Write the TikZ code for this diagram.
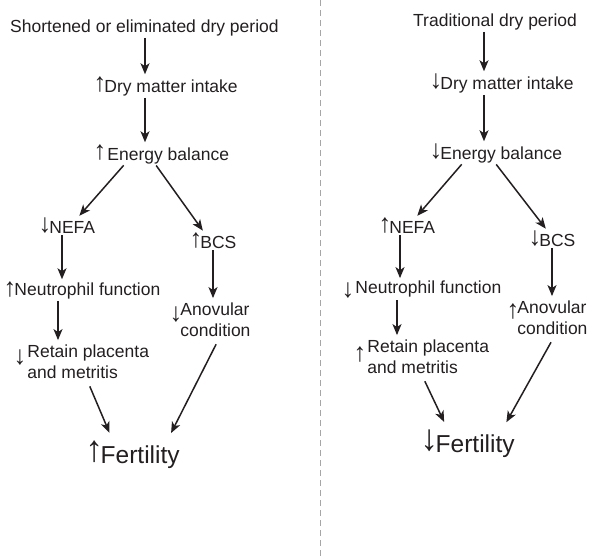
\documentclass[tikz,border=0pt]{standalone}
\usepackage{fontspec}
\setmainfont{Liberation Sans}
\usetikzlibrary{arrows.meta}
\definecolor{ink}{RGB}{35,31,32}
\newcommand{\twol}[2]{\begin{tabular}[t]{@{}l@{}}#1\\#2\end{tabular}}
\newcommand{\upg}[1][0pt]{\raisebox{#1}{\makebox[0.42em][c]{\scalebox{1.45}[1.5]{\raisebox{\depth}{↑}}}}\kern0.05em}
\newcommand{\dng}[1][0pt]{\raisebox{#1}{\makebox[0.42em][c]{\scalebox{1.45}[1.5]{\raisebox{\depth}{↓}}}}\kern0.05em}
\begin{document}
\begin{tikzpicture}[x=1pt,y=-1pt,
  txt/.style={anchor=base west, inner sep=0pt, text=ink, font=\fontsize{17.5}{21}\selectfont},
  big/.style={anchor=base west, inner sep=0pt, text=ink, font=\fontsize{24.5}{29}\selectfont},
  arr/.style={draw=ink, line width=1.5pt, -{Stealth[length=11pt,width=9pt,inset=3pt]}, shorten <=2pt, shorten >=2pt},
  toF/.style={shorten >=9pt}]
\useasboundingbox (0,0) rectangle (598,557);
\draw[gray!70, line width=0.9pt, dash pattern=on 6pt off 4pt] (320,0) -- (320,557);

% left column
\node[txt] (Ltop) at (10,32) {Shortened or eliminated dry period};
\node[txt] (Ldmi) at (96,92) {\upg Dry matter intake};
\node[txt] (Leb) at (96,160) {\upg\kern3pt Energy balance};
\node[txt] (Lnefa) at (41,233) {\dng NEFA};
\node[txt] (Lbcs) at (192,248) {\upg BCS};
\node[txt] (Lneu) at (6,295) {\upg[-2pt] Neutrophil function};
\node[txt] (Lanov) at (172,315) {\dng[-7pt]\twol{Anovular}{condition}};
\node[txt] (Lret) at (16,357) {\dng[-8pt]\kern3pt\twol{Retain placenta}{and metritis}};
\node[big] (Lfert) at (89,463) {\upg Fertility};

\draw[arr] (145,0 |- Ltop.south) -- (145,0 |- Ldmi.north);
\draw[arr] (145,0 |- Ldmi.south) -- (145,0 |- Leb.north);
\draw[arr] (125,0 |- Leb.south) -- (78,0 |- Lnefa.north);
\draw[arr] (155,0 |- Leb.south) -- (204,0 |- Lbcs.north);
\draw[arr] (62,0 |- Lnefa.south) -- (62,0 |- Lneu.north);
\draw[arr] (213,0 |- Lbcs.south) -- (213,0 |- Lanov.north);
\draw[arr] (58,0 |- Lneu.south) -- (58,0 |- Lret.north);
\draw[arr,toF] (89,0 |- Lret.south) -- (113,0 |- Lfert.north);
\draw[arr,toF] (217,0 |- Lanov.south) -- (167,0 |- Lfert.north);

% right column
\node[txt] (Rtop) at (413,26) {Traditional dry period};
\node[txt] (Rdmi) at (432,89) {\dng Dry matter intake};
\node[txt] (Reb) at (432,159) {\dng Energy balance};
\node[txt] (Rnefa) at (381,233) {\upg NEFA};
\node[txt] (Rbcs) at (531,246) {\dng BCS};
\node[txt] (Rneu) at (344,293) {\dng[-5pt]\kern3pt Neutrophil function};
\node[txt] (Ranov) at (509,313) {\upg[-6pt]\twol{Anovular}{condition}};
\node[txt] (Rret) at (356,352) {\upg[-10pt]\kern3pt\twol{Retain placenta}{and metritis}};
\node[big] (Rfert) at (424,452) {\dng Fertility};

\draw[arr] (484,0 |- Rtop.south) -- (484,0 |- Rdmi.north);
\draw[arr] (484,0 |- Rdmi.south) -- (484,0 |- Reb.north);
\draw[arr] (463,0 |- Reb.south) -- (416,0 |- Rnefa.north);
\draw[arr] (495,0 |- Reb.south) -- (547,0 |- Rbcs.north);
\draw[arr] (400,0 |- Rnefa.south) -- (400,0 |- Rneu.north);
\draw[arr] (552,0 |- Rbcs.south) -- (552,0 |- Ranov.north);
\draw[arr] (397,0 |- Rneu.south) -- (397,0 |- Rret.north);
\draw[arr,toF] (424,0 |- Rret.south) -- (448,0 |- Rfert.north);
\draw[arr,toF] (552,0 |- Ranov.south) -- (502,0 |- Rfert.north);
\end{tikzpicture}
\end{document}
